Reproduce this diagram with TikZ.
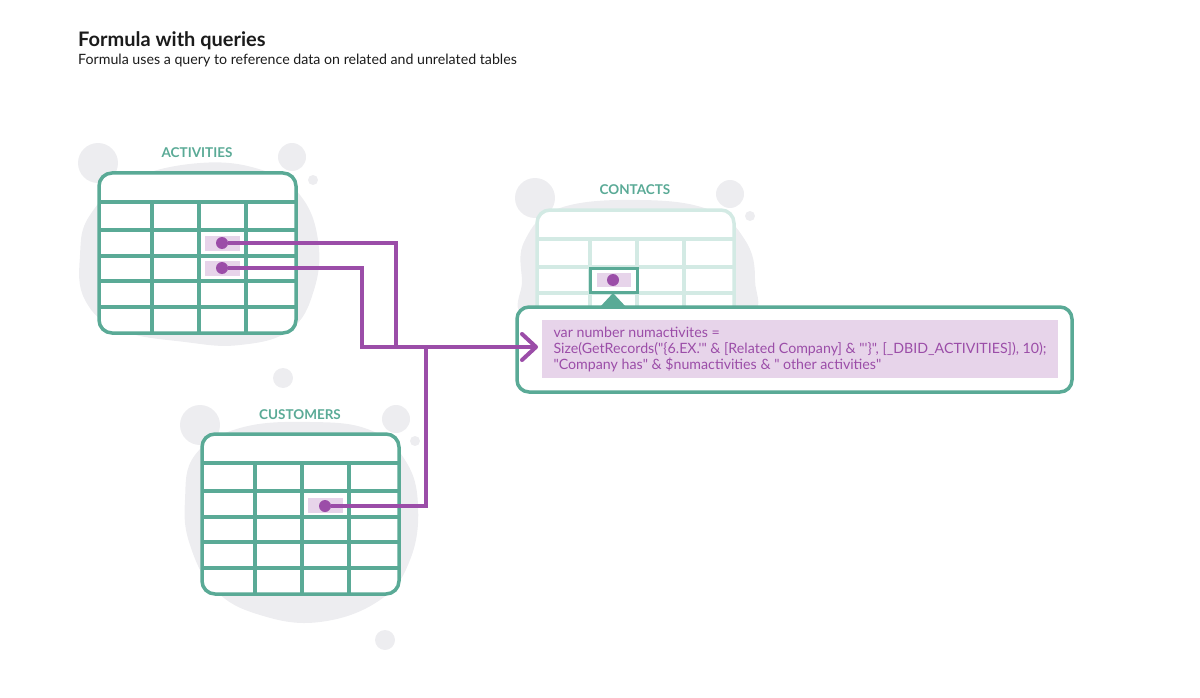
\documentclass[tikz,border=0pt]{standalone}
\usepackage{fontspec}
\setmainfont{Lato}
\newfontfamily\codefont{Lato}
\usepackage{xcolor}
\usepackage{tikz}
\usetikzlibrary{positioning,arrows.meta}
\definecolor{tealc}{HTML}{5AAA96}
\definecolor{tealfaint}{HTML}{D3EAE4}
\definecolor{plum}{HTML}{9B4DA8}
\definecolor{lilac}{HTML}{E7D4EA}
\definecolor{blobgray}{HTML}{EDEDF0}
\definecolor{inkc}{HTML}{1B1B1B}

\begin{document}
\begin{tikzpicture}[x=1pt, y=-1pt,
  blob/.style={fill=blobgray, draw=none},
  tbltitle/.style={text=tealc, font=\fontsize{13.5}{15}\selectfont\bfseries},
  cellmark/.style={fill=lilac, draw=none},
  dot/.style={circle, fill=plum, inner sep=0pt, minimum size=12pt},
  link/.style={plum, line width=3.2pt},
  pics/dbtable/.style={code={
    \draw[#1, line width=3.5pt, rounded corners=13pt, fill=white] (0,0) rectangle (197,160);
    \foreach \ry in {29,57,83,108,134} \draw[#1, line width=3.5pt] (0,\ry) -- (197,\ry);
    \foreach \cx in {53,100,147} \draw[#1, line width=3.5pt] (\cx,29) -- (\cx,160);
  }}
]
  \useasboundingbox (0,0) rectangle (1200,698);

  % heading
  \node[anchor=base west, inner sep=0pt, text=inkc, font=\fontsize{20}{22}\selectfont\bfseries] (title) at (78,47) {Formula with queries};
  \node[anchor=base west, inner sep=0pt, text=inkc, font=\fontsize{14.2}{16}\selectfont] (subtitle) at (78,65) {Formula uses a query to reference data on related and unrelated tables};

  % background blobs
  \fill[blob] plot[smooth cycle, tension=0.7] coordinates {(90,215) (130,180) (200,163) (262,170) (300,195) (318,240) (314,290) (290,330) (240,345) (185,342) (120,330) (85,300) (80,255)};
  \fill[blob] plot[smooth cycle, tension=0.7] coordinates {(195,455) (240,428) (310,422) (370,430) (405,460) (418,505) (410,560) (380,600) (320,622) (260,615) (215,590) (190,545) (185,500)};
  \fill[blob] plot[smooth cycle, tension=0.7] coordinates {(525,240) (560,208) (640,200) (710,210) (745,240) (755,280) (745,320) (640,330) (530,320) (522,280)};
  \foreach \bx/\by/\br in {98/163/20, 292/157/14, 313/180/5, 283/378/10, 200/425/20, 396/419/14, 415/441/5, 385/640/10, 535/198/20, 730/194/14, 750/216/5}
    \fill[blob] (\bx,\by) circle[radius=\br];

  % tables
  \pic at (99,173) {dbtable=tealc};
  \pic at (202,434) {dbtable=tealc};
  \pic at (537,210) {dbtable=tealfaint};
  \node[tbltitle] (actlabel) at (197,153) {ACTIVITIES};
  \node[tbltitle] (custlabel) at (300,415) {CUSTOMERS};
  \node[tbltitle] (contlabel) at (635,190) {CONTACTS};

  % marked cells
  \fill[cellmark] (205,236) rectangle (240,251);
  \fill[cellmark] (205,261) rectangle (240,276);
  \fill[cellmark] (308,498) rectangle (343,513);
  \node[dot] (actdotA) at (222,243) {};
  \node[dot] (actdotB) at (222,268) {};
  \node[dot] (custdot) at (325,506) {};

  % formula
  \node[draw=tealc, line width=3.5pt, rounded corners=12pt, fill=white, minimum width=555pt, minimum height=85pt] (formula) at (794.5,349.5) {};
  \node[fill=lilac, minimum width=516pt, minimum height=58pt, inner xsep=8pt, align=left, text=plum,
        font=\codefont\fontsize{14.2}{16}\selectfont] (query) at (800,349)
    {var number numactivites =\\
     Size(GetRecords("\{6.EX.'" \& [Related Company] \& "'\}", [\_DBID\_ACTIVITIES]), 10);\\
     "Company has" \& \$numactivities \& " other activities"};

  % contacts cell pointer
  \fill[fill=white] (590,268) rectangle (637,292);
  \fill[cellmark] (597,273) rectangle (631,287);
  \draw[tealc, line width=3pt] (590,268) rectangle (637,292);
  \node[dot] (contdot) at (613,280) {};
  \fill[tealc] (600,307) -- (613,293) -- (626,307) -- cycle;

  % query links
  \coordinate (bendA) at (396,347);
  \coordinate (bendB) at (362,347);
  \coordinate (bendC) at (426,347);
  \coordinate (tip) at (538,347);
  \draw[link] (actdotA) -| (bendA);
  \draw[link, -{Straight Barb[length=14pt, width=26pt, line width=4pt, round]}] (actdotB) -| (bendB) -- (tip);
  \draw[link] (custdot) -| (bendC);
\end{tikzpicture}
\end{document}
